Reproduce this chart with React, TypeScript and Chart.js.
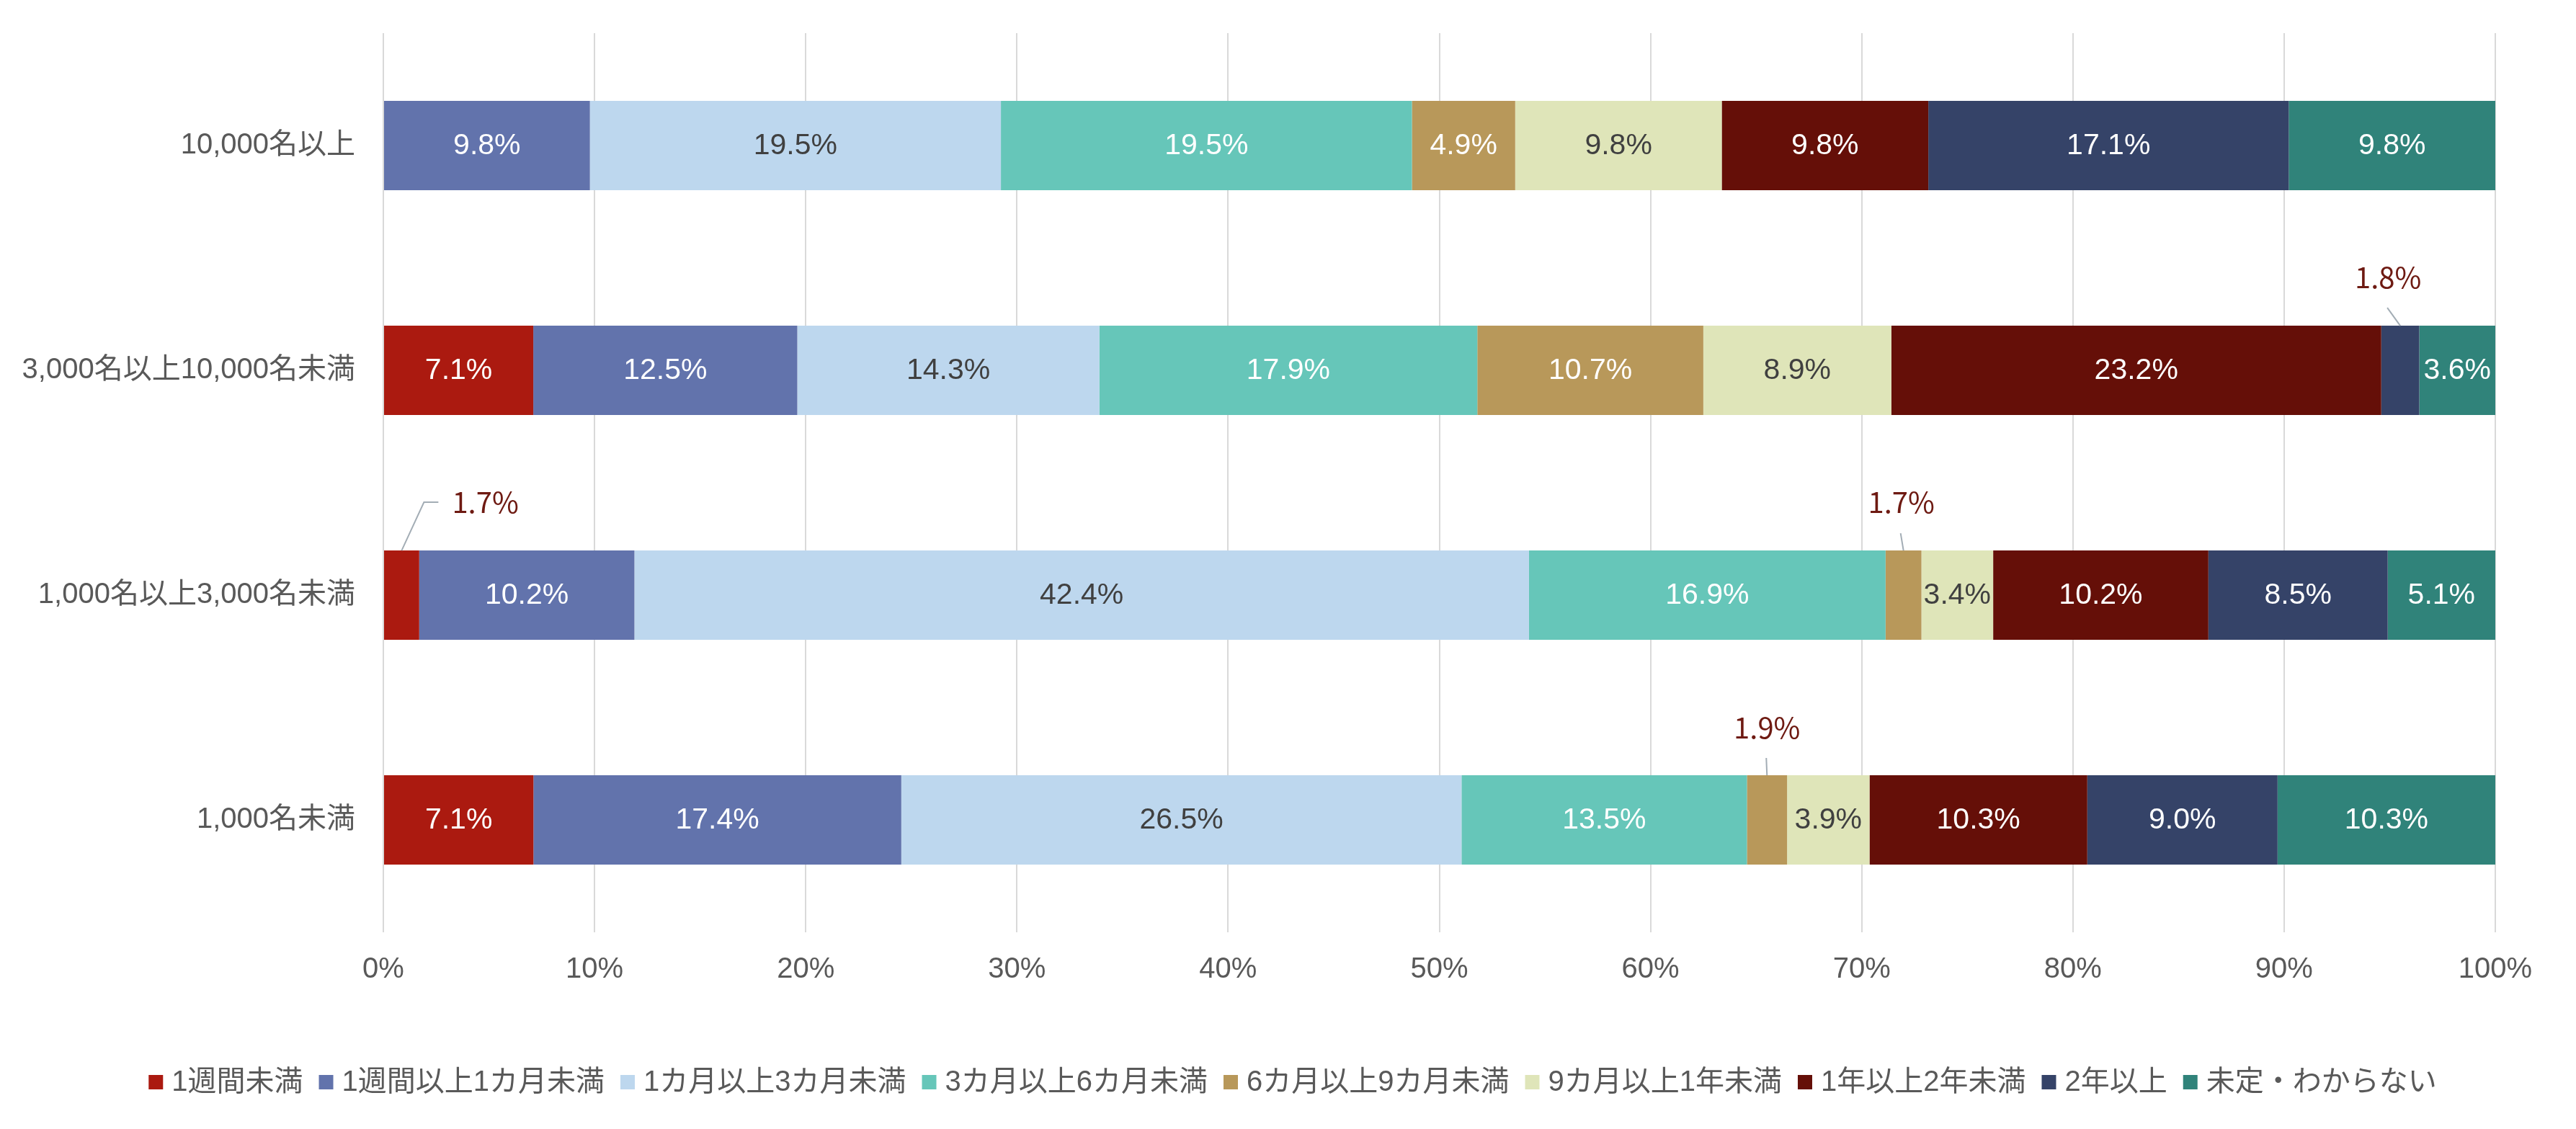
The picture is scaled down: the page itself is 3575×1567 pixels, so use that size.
import React, { useEffect, useRef } from 'react';
import { Chart, registerables } from 'chart.js';

Chart.register(...registerables);

// ---- data ----
const categories = ['10,000名以上', '3,000名以上10,000名未満', '1,000名以上3,000名未満', '1,000名未満'];
const seriesNames = [
  '1週間未満',
  '1週間以上1カ月未満',
  '1カ月以上3カ月未満',
  '3カ月以上6カ月未満',
  '6カ月以上9カ月未満',
  '9カ月以上1年未満',
  '1年以上2年未満',
  '2年以上',
  '未定・わからない',
];
const under1Week = [0, 7.1, 1.7, 7.1];
const week1ToMonth1 = [9.8, 12.5, 10.2, 17.4];
const month1To3 = [19.5, 14.3, 42.4, 26.5];
const month3To6 = [19.5, 17.9, 16.9, 13.5];
const month6To9 = [4.9, 10.7, 1.7, 1.9];
const month9ToYear1 = [9.8, 8.9, 3.4, 3.9];
const year1To2 = [9.8, 23.2, 10.2, 10.3];
const year2Plus = [17.1, 1.8, 8.5, 9.0];
const undecided = [9.8, 3.6, 5.1, 10.3];
const seriesValues = [under1Week, week1ToMonth1, month1To3, month3To6, month6To9, month9ToYear1, year1To2, year2Plus, undecided];
const xTickValues = [0, 10, 20, 30, 40, 50, 60, 70, 80, 90, 100];

// ---- styles ----
const seriesColors = ['#AB1A10', '#6273AC', '#BDD7EE', '#66C6B9', '#B8985A', '#DFE5B9', '#650F08', '#354368', '#30837A'];
const labelColors = ['#FFFFFF', '#FFFFFF', '#404040', '#FFFFFF', '#FFFFFF', '#404040', '#FFFFFF', '#FFFFFF', '#FFFFFF'];
const FONT = "'Liberation Sans', 'Noto Sans CJK JP', sans-serif";
const CALLOUT_FONT = "'Noto Sans CJK JP', 'Liberation Sans', sans-serif";
// callouts: series index, row index, leader-line points relative to segment top centre, text anchor
const callouts = [
  { series: 0, row: 2, pts: [[0, 0], [31, -67], [51, -67]], text: [70, -67], align: 'left' },
  { series: 4, row: 2, pts: [[0, 0], [-4, -24]], text: [-3, -67], align: 'center' },
  { series: 7, row: 1, pts: [[0, 0], [-18, -25]], text: [-17, -67], align: 'center' },
  { series: 4, row: 3, pts: [[0, 0], [-1, -24]], text: [0, -66], align: 'center' },
];

const rowSums = categories.map((_, r) => seriesValues.reduce((s, arr) => s + arr[r], 0));

const labelPlugin = {
  id: 'segLabels',
  afterDatasetsDraw(chart: any) {
    const ctx = chart.ctx;
    ctx.save();
    seriesValues.forEach((vals, di) => {
      const meta = chart.getDatasetMeta(di);
      meta.data.forEach((bar: any, ri: number) => {
        const v = vals[ri];
        if (!v) return;
        const p = bar.getProps(['x', 'y', 'base', 'height'], true);
        const cx = (p.x + p.base) / 2;
        const txt = v.toFixed(1) + '%';
        const c = callouts.find((k) => k.series === di && k.row === ri);
        if (c) {
          const top = p.y - p.height / 2;
          ctx.strokeStyle = '#A3ADB5';
          ctx.lineWidth = 2;
          ctx.beginPath();
          c.pts.forEach(([dx, dy], i) => {
            if (i === 0) ctx.moveTo(cx + dx, top + dy);
            else ctx.lineTo(cx + dx, top + dy);
          });
          ctx.stroke();
          ctx.fillStyle = '#6E1A12';
          ctx.font = `40px ${CALLOUT_FONT}`;
          ctx.textAlign = c.align;
          ctx.textBaseline = 'middle';
          ctx.fillText(txt, cx + c.text[0], top + c.text[1]);
        } else {
          ctx.fillStyle = labelColors[di];
          ctx.font = `41px ${FONT}`;
          ctx.textAlign = 'center';
          ctx.textBaseline = 'middle';
          ctx.fillText(txt, cx, p.y + 1);
        }
      });
    });
    ctx.restore();
  },
};

const legendPlugin = {
  id: 'customLegend',
  afterDraw(chart: any) {
    const ctx = chart.ctx;
    ctx.save();
    ctx.font = `40px ${FONT}`;
    const box = 20;
    const boxGap = 12;
    const itemGap = 22;
    const widths = seriesNames.map((n) => box + boxGap + ctx.measureText(n).width);
    const total = widths.reduce((a, b) => a + b, 0) + itemGap * (widths.length - 1);
    let x = 1794 - total / 2;
    const y = 1502;
    seriesNames.forEach((n, i) => {
      ctx.fillStyle = seriesColors[i];
      ctx.fillRect(x, y - box / 2, box, box);
      ctx.fillStyle = '#595959';
      ctx.textAlign = 'left';
      ctx.textBaseline = 'middle';
      ctx.fillText(n, x + box + boxGap, y + 1);
      x += widths[i] + itemGap;
    });
    ctx.restore();
  },
};

export default function App() {
  const ref = useRef<HTMLCanvasElement>(null);
  useEffect(() => {
    if (!ref.current) return;
    const chart = new Chart(ref.current, {
      type: 'bar',
      data: {
        labels: categories,
        datasets: seriesNames.map((name, i) => ({
          label: name,
          data: seriesValues[i].map((v, r) => (v / rowSums[r]) * 100),
          backgroundColor: seriesColors[i],
          borderWidth: 0,
          barPercentage: 0.397,
          categoryPercentage: 1,
        })),
      },
      options: {
        indexAxis: 'y',
        responsive: false,
        animation: false,
        layout: { padding: { top: 46, right: 112, left: 0, bottom: 0 } },
        plugins: {
          legend: { display: false },
          tooltip: { enabled: false },
        },
        scales: {
          x: {
            stacked: true,
            min: 0,
            max: 100,
            afterBuildTicks: (scale: any) => {
              scale.ticks = xTickValues.map((v) => ({ value: v }));
            },
            afterFit: (scale: any) => {
              scale.height = 273;
            },
            ticks: {
              callback: (v: any) => v + '%',
              font: { size: 40, family: FONT },
              color: '#595959',
              padding: 28,
              maxRotation: 0,
            },
            grid: { color: '#D9D9D9', lineWidth: 2, drawTicks: false },
            border: { display: false },
          },
          y: {
            stacked: true,
            afterFit: (scale: any) => {
              scale.width = 532;
              scale.paddingTop = 0;
              scale.paddingBottom = 0;
            },
            ticks: {
              font: { size: 40, family: FONT },
              color: '#595959',
              padding: 39,
            },
            grid: { display: false, drawTicks: false },
            border: { display: false },
          },
        },
      },
      plugins: [labelPlugin, legendPlugin],
    } as any);
    return () => chart.destroy();
  }, []);
  return (
    <div style={{ position: 'absolute', left: 0, top: 0, width: 3575, height: 1567, background: '#fff' }}>
      <canvas ref={ref} width={3575} height={1567} style={{ display: 'block' }} />
    </div>
  );
}
